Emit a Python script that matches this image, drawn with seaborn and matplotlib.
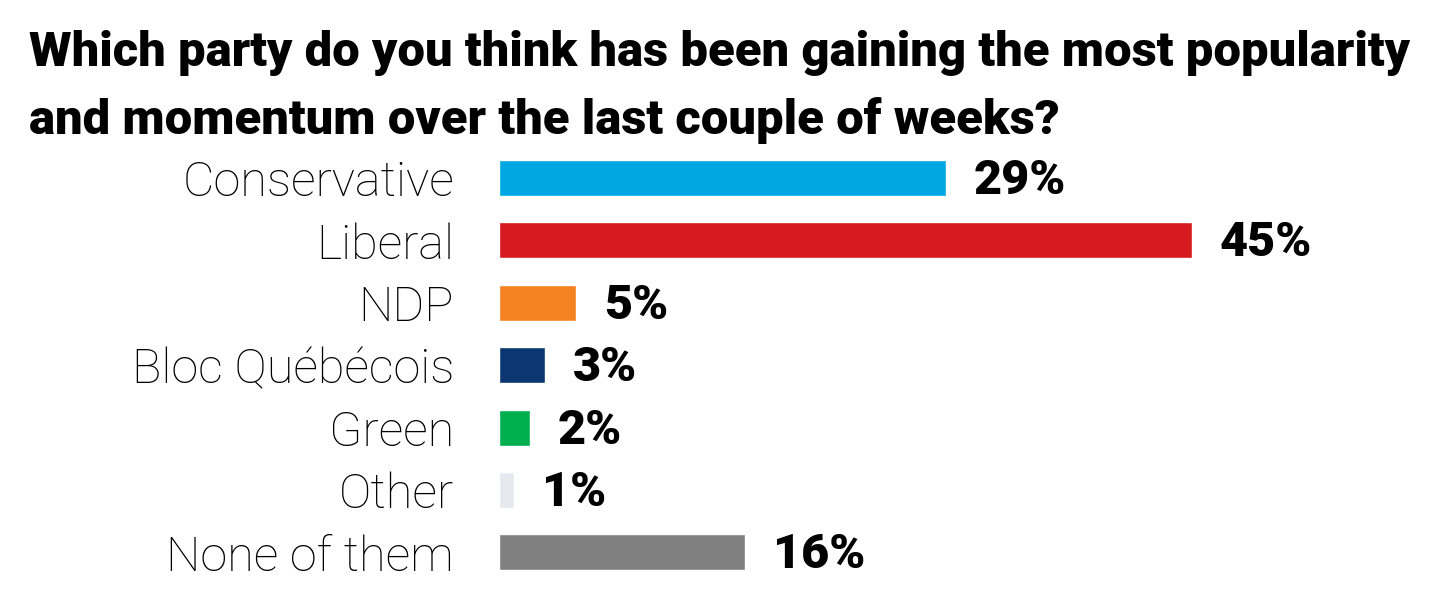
import matplotlib
matplotlib.use("Agg")
import matplotlib.pyplot as plt
import seaborn as sns
import pandas as pd

categories = ["Conservative", "Liberal", "NDP", "Bloc Québécois", "Green", "Other", "None of them"]
values = [29, 45, 5, 3, 2, 1, 16]
colors = ["#00A7E0", "#D71920", "#F58220", "#0C3671", "#00B04F", "#E6E9EF", "#808080"]
title_lines = ["Which party do you think has been gaining the most popularity",
               "and momentum over the last couple of weeks?"]

sns.set_theme(style="white")
plt.rcParams["font.family"] = ["Roboto", "DejaVu Sans"]

W, H = 1451, 589
fig = plt.figure(figsize=(W / 100, H / 100), dpi=100)
fig.patch.set_facecolor("white")

ax_left = 499 / W
ax_w = 924 / W
ax_top_px, ax_bot_px = 146.8, 583.6
ax = fig.add_axes([ax_left, 1 - ax_bot_px / H, ax_w, (ax_bot_px - ax_top_px) / H])

df = pd.DataFrame({"party": categories, "value": values})
sns.barplot(data=df, y="party", x="value", hue="party", palette=colors,
            order=categories, hue_order=categories, legend=False,
            width=0.58, saturation=1, ax=ax, orient="h")

ax.set_xlim(0, 60)
ax.set_ylim(6.5, -0.5)
ax.set_xlabel("")
ax.set_ylabel("")
ax.set_xticks([])
for s in ax.spines.values():
    s.set_visible(False)
ax.tick_params(axis="y", length=0, pad=45 * 0.72, labelsize=35)
for lbl in ax.get_yticklabels():
    lbl.set_fontweight("light")
    lbl.set_color("#000000")

for i, v in enumerate(values):
    ax.annotate(f"{v}%", xy=(v, i), xytext=(28, -3), textcoords="offset pixels",
                va="center", ha="left", fontsize=35, fontweight="heavy", color="#000000")

fig.text(29 / W, 1 - 66 / H, title_lines[0], fontsize=35.3, fontweight="heavy",
         ha="left", va="baseline", color="#000000")
fig.text(29 / W, 1 - 134 / H, title_lines[1], fontsize=35.3, fontweight="heavy",
         ha="left", va="baseline", color="#000000")

fig.savefig("out.png", dpi=100, facecolor="white")
